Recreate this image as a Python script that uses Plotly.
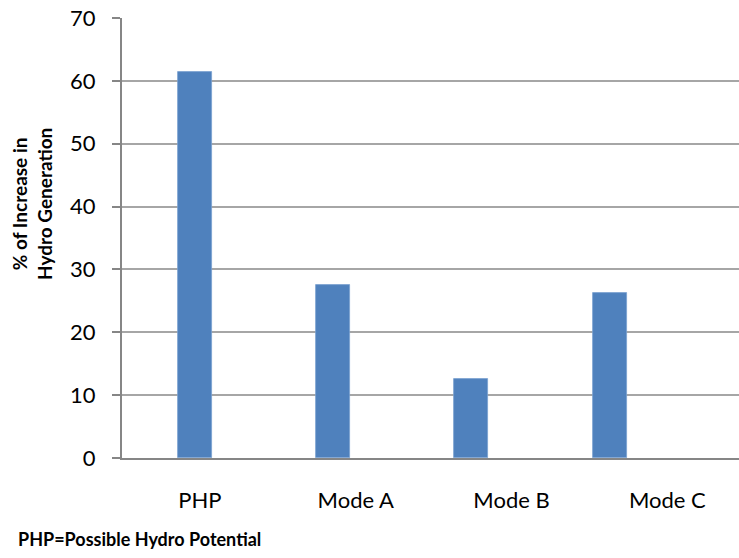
import plotly.graph_objects as go

# Data
categories = ["PHP", "Mode A", "Mode B", "Mode C"]
increase_pct = [61.4, 27.6, 12.6, 26.3]
y_ticks = [0, 10, 20, 30, 40, 50, 60, 70]

bar_color = "#4F81BD"
axis_gray = "#868686"
grid_gray = "#a6a6a6"
font_family = "Lato, 'Open Sans', sans-serif"

fig = go.Figure()

# Bars on the primary x axis
fig.add_trace(go.Bar(
    x=categories,
    y=increase_pct,
    marker=dict(color=bar_color, line=dict(color="#7aa0cf", width=0.8)),
    width=0.246,
    hoverinfo="x+y",
    showlegend=False,
))

# Invisible companion trace that carries the category labels on x2
fig.add_trace(go.Scatter(
    x=categories,
    y=increase_pct,
    xaxis="x2",
    mode="markers",
    marker=dict(opacity=0),
    hoverinfo="skip",
    showlegend=False,
))

fig.update_layout(
    width=739,
    height=558,
    margin=dict(l=122, r=0, t=18, b=100),
    paper_bgcolor="white",
    plot_bgcolor="white",
    font=dict(family=font_family, color="#000000"),
    bargap=0,
    xaxis=dict(
        type="category",
        categoryorder="array",
        categoryarray=categories,
        range=[-0.526, 3.936],
        showticklabels=False,
        ticks="",
        showgrid=False,
        showline=False,
        zeroline=False,
        fixedrange=True,
    ),
    xaxis2=dict(
        type="category",
        categoryorder="array",
        categoryarray=categories,
        range=[-0.5, 3.46],
        overlaying="x",
        side="bottom",
        anchor="y",
        showgrid=False,
        showline=True,
        linecolor=axis_gray,
        linewidth=2,
        ticks="",
        tickfont=dict(size=22, family=font_family, color="#000000"),
        ticklabelstandoff=22,
        zeroline=False,
    ),
    yaxis=dict(
        range=[0, 70],
        tickvals=y_ticks,
        showgrid=True,
        gridcolor=grid_gray,
        gridwidth=1.5,
        showline=True,
        linecolor=axis_gray,
        linewidth=2,
        ticks="outside",
        ticklen=8,
        tickwidth=1.5,
        tickcolor=axis_gray,
        tickfont=dict(size=22, family=font_family, color="#000000"),
        ticklabelstandoff=12,
        zeroline=False,
    ),
    annotations=[
        dict(
            text="<b>% of Increase in<br>Hydro Generation</b>",
            xref="paper", yref="paper",
            x=(32 - 122) / 617, y=(458 - 204) / 440,
            xanchor="center", yanchor="middle",
            textangle=-90,
            showarrow=False,
            font=dict(size=19, family=font_family, color="#000000"),
        ),
        dict(
            text="<b>PHP=Possible Hydro Potential</b>",
            xref="paper", yref="paper",
            x=(16 - 122) / 617, y=(458 - 539) / 440,
            xanchor="left", yanchor="middle",
            showarrow=False,
            font=dict(size=18, family=font_family, color="#000000"),
        ),
    ],
)

fig.write_html("out.html")
